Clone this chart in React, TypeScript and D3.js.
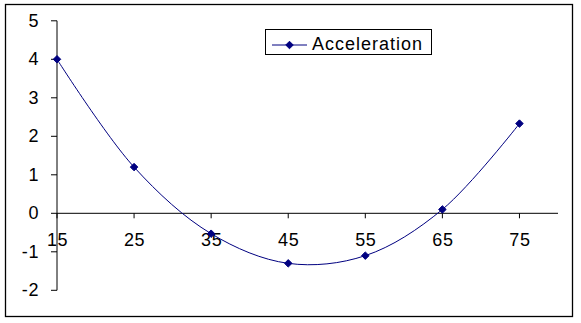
import React from "react";
import * as d3 from "d3";

const xValues = [15, 25, 35, 45, 55, 65, 75];
const acceleration = [4.0, 1.2, -0.53, -1.3, -1.1, 0.1, 2.33];
const xTicks = [15, 25, 35, 45, 55, 65, 75];
const yTicks = [-2, -1, 0, 1, 2, 3, 4, 5];
const seriesName = "Acceleration";

const W = 581;
const H = 323;
const COLOR = "#000080";
const FONT = "'Liberation Sans', Arial, sans-serif";

export default function App() {
  const x = d3.scaleLinear().domain([15, 80]).range([57, 558]);
  const y = d3.scaleLinear().domain([-2, 5]).range([290.3, 20.8]);
  const pts = xValues.map((v, i) => [x(v), y(acceleration[i])] as [number, number]);
  const line = d3.line().curve(d3.curveCatmullRom.alpha(0.5))(pts) || "";
  const diamond = d3.symbol().type(d3.symbolDiamond2).size(36)() || "";
  const x0 = x(15);
  const y0 = y(0);

  return (
    <svg
      width={W}
      height={H}
      style={{ position: "absolute", left: 0, top: 0, display: "block", background: "#fff" }}
      fontFamily={FONT}
    >
      <rect x={5.5} y={4.5} width={567} height={312} fill="#fff" stroke="#000" strokeWidth={1.3} />
      {/* y axis */}
      <line x1={x0} x2={x0} y1={y(5)} y2={y(-2)} stroke="#000" strokeWidth={1} />
      {yTicks.map((t) => (
        <g key={"y" + t}>
          <line x1={x0 - 6} x2={x0} y1={y(t)} y2={y(t)} stroke="#000" />
          <text
            x={39}
            y={y(t)}
            textAnchor="end"
            dominantBaseline="central"
            fontSize={18}
            letterSpacing={0.6}
            fill="#000"
          >
            {t}
          </text>
        </g>
      ))}
      {/* x axis */}
      <line x1={x0} x2={x(80)} y1={y0} y2={y0} stroke="#000" />
      {xTicks.map((t) => (
        <g key={"x" + t}>
          <line x1={x(t)} x2={x(t)} y1={y0} y2={y0 + 5} stroke="#000" />
          <text
            x={x(t) + 0.5}
            y={240}
            textAnchor="middle"
            dominantBaseline="central"
            fontSize={18}
            letterSpacing={0.6}
            fill="#000"
          >
            {t}
          </text>
        </g>
      ))}
      <path d={line} fill="none" stroke={COLOR} strokeWidth={1} />
      {pts.map((p, i) => (
        <path key={i} d={diamond} transform={`translate(${p[0]},${p[1]})`} fill={COLOR} stroke={COLOR} />
      ))}
      {/* legend */}
      <rect x={265.5} y={29.5} width={166} height={25} fill="#fff" stroke="#000" strokeWidth={1} />
      <line x1={272} x2={307} y1={45} y2={45} stroke={COLOR} />
      <path d={diamond} transform="translate(289.5,45)" fill={COLOR} stroke={COLOR} />
      <text x={312} y={44} dominantBaseline="central" fontSize={18} letterSpacing={1} fill="#000">
        {seriesName}
      </text>
    </svg>
  );
}
